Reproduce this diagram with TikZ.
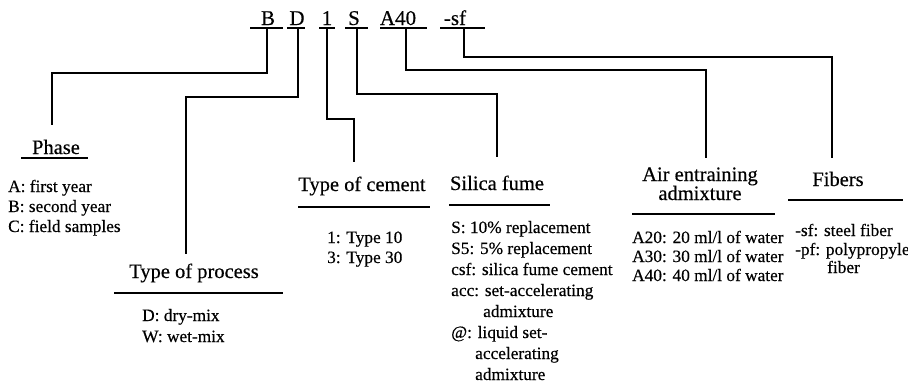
\documentclass[tikz,border=0pt]{standalone}
\usepackage{fontspec}
\setmainfont{Liberation Serif}[FakeBold=0.4]
\begin{document}
\begin{tikzpicture}[x=1pt,y=-1pt,
  conn/.style={line width=2pt, line cap=rect},
  uline/.style={line width=2.4pt},
  code/.style={font=\fontsize{21}{24}\selectfont, inner sep=0pt, anchor=base},
  head/.style={font=\fontsize{20.5}{24}\selectfont, inner sep=0pt, anchor=base},
  item/.style={font=\fontsize{17.3}{20}\selectfont, inner sep=0pt, anchor=base west}]
\useasboundingbox (0,0) rectangle (908,383);

% ---- code letters ----
\node[code] (cB) at (268,25) {B};
\node[code] (cD) at (297,25) {D};
\node[code] (c1) at (327,25) {1};
\node[code] (cS) at (354,25) {S};
\node[code] (cA) at (398,25) {A40};
\node[code] (cF) at (455,25) {-sf};
\draw[uline] (250,28) -- (283,28);
\draw[uline] (287,28) -- (305,28);
\draw[uline] (319,28) -- (335,28);
\draw[uline] (345,28) -- (368,28);
\draw[uline] (380,28) -- (427,28);
\draw[uline] (440,28) -- (485,28);

% ---- headings ----
\node[head] (hPhase) at (56,154) {Phase};
\draw[uline] (21,158) -- (88,158);
\node[head] (hProc) at (194,278) {Type of process};
\draw[uline] (114,293) -- (283,293);
\node[head] (hCem) at (362,191) {Type of cement};
\draw[uline] (298,207) -- (430,207);
\node[head] (hSil) at (497,190) {Silica fume};
\draw[uline] (449,205) -- (550,205);
\node[head] (hAir1) at (700,181) {Air entraining};
\node[head] (hAir2) at (700,200) {admixture};
\draw[uline] (632,214) -- (775,214);
\node[head] (hFib) at (838,186) {Fibers};
\draw[uline] (788,200) -- (903,200);

% ---- connectors ----
\coordinate (sB) at (267,28);  \coordinate (eB) at (52,124);
\coordinate (sD) at (298,28);  \coordinate (eD) at (186,253);
\coordinate (s1) at (327,28);  \coordinate (e1) at (354,161);
\coordinate (sS) at (357,28);  \coordinate (eS) at (497,156);
\coordinate (sA) at (406,28);  \coordinate (eA) at (706,157);
\coordinate (sF) at (464,28);  \coordinate (eF) at (832,157);
\draw[conn] (sB) -- (sB |- 0,73) -| (eB);
\draw[conn] (sD) -- (sD |- 0,97) -| (eD);
\draw[conn] (s1) -- (s1 |- 0,119) -| (e1);
\draw[conn] (sS) -- (sS |- 0,94) -| (eS);
\draw[conn] (sA) -- (sA |- 0,70) -| (eA);
\draw[conn] (sF) -- (sF |- 0,57) -| (eF);

% ---- items ----
\node[item] (p1) at (8,192) {A: first year};
\node[item] (p2) at (8,212) {B: second year};
\node[item] (p3) at (8,232) {C: field samples};

\node[item] (d1) at (142,321) {D: dry-mix};
\node[item] (d2) at (142,342) {W: wet-mix};

\node[item] (t1) at (327,243) {1: Type 10};
\node[item] (t2) at (327,263) {3: Type 30};

\node[item] (s1t) at (451,233) {S: 10\% replacement};
\node[item] (s2t) at (451,254) {S5: 5\% replacement};
\node[item] (s3t) at (451,275) {csf: silica fume cement};
\node[item] (s4t) at (451,296) {acc: set-accelerating};
\node[item] (s5t) at (483,317) {admixture};
\node[item] (s6t) at (451,338) {@: liquid set-};
\node[item] (s7t) at (475,359) {accelerating};
\node[item] (s8t) at (475,380) {admixture};

\node[item] (a1) at (632,243) {A20: 20 ml/l of water};
\node[item] (a2) at (632,262) {A30: 30 ml/l of water};
\node[item] (a3) at (632,281) {A40: 40 ml/l of water};

\node[item] (f1) at (795,236) {-sf: steel fiber};
\node[item] (f2) at (795,255) {-pf: polypropyle};
\node[item] (f3) at (827,273) {fiber};
\end{tikzpicture}
\end{document}
